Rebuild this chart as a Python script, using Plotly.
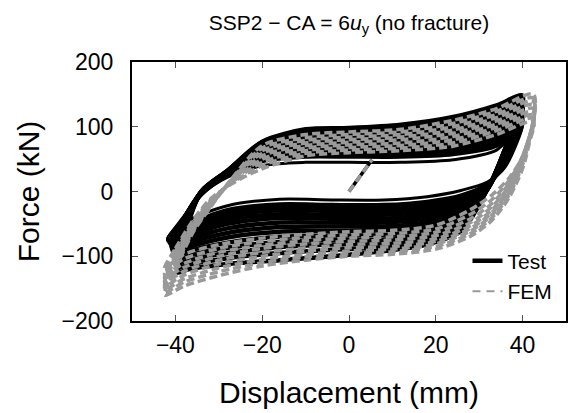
import plotly.graph_objects as go

# ---------------- Test (black) hysteresis cycles ----------------
# Left reversal point of every cycle (end of unloading / start of loading)
test_tip_disp = [-41.8, -41.7, -41.6, -41.4, -41.2, -41.0, -40.8, -40.6,
                 -40.4, -40.2, -40.0, -39.8, -39.6, -39.4]
test_tip_force = [-72, -74, -76, -78, -80, -84, -88, -92, -96, -100, -106,
                  -112, -118, -125]
# Loading branch (towards +40 mm); last point is the right reversal
test_up_disp = [-38, -34, -28, -20, -10, 0, 12, 24, 34, 40]
# Unloading branch (towards -40 mm)
test_dn_disp = [36, 32, 26, 18, 8, -4, -16, -28, -37]

test_up_force = [
    [-40, -5, 22, 40, 45, 45, 45, 49, 64, 104],
    [-40, -4, 25, 47, 54, 54, 54, 58, 71, 108],
    [-41, -3, 27, 51, 57, 57, 58, 62, 76, 112],
    [-41, -3, 28, 54, 60, 60, 62, 67, 82, 116],
    [-42, -2, 29, 57, 63, 63, 65, 72, 88, 120],
    [-42, -2, 29, 60, 66, 66, 69, 77, 94, 124],
    [-43, -1, 30, 63, 69, 69, 73, 82, 99, 128],
    [-43, -1, 30, 65, 72, 72, 77, 87, 104, 131],
    [-48, 0, 31, 68, 76, 76, 81, 92, 109, 134],
    [-52, 0, 31, 70, 80, 80, 85, 96, 114, 137],
    [-57, 0, 31, 72, 85, 84, 89, 101, 119, 140],
    [-62, 0, 32, 74, 89, 89, 94, 106, 124, 143],
    [-67, 0, 32, 76, 93, 94, 98, 110, 128, 146],
    [-72, 0, 32, 77, 96, 98, 103, 115, 133, 148],
]
test_dn_force = [
    [38, 15, 2, -8, -13, -13, -12, -22, -45],
    [45, 12, -6, -16, -21, -21, -20, -29, -52],
    [50, 10, -9, -20, -25, -25, -24, -33, -56],
    [54, 8, -13, -25, -30, -30, -29, -38, -60],
    [57, 7, -17, -30, -36, -36, -35, -44, -64],
    [60, 6, -21, -36, -42, -42, -41, -50, -69],
    [62, 6, -25, -41, -48, -48, -48, -57, -74],
    [64, 5, -29, -47, -54, -54, -55, -64, -80],
    [66, 5, -33, -53, -60, -61, -62, -71, -86],
    [66, 5, -37, -58, -67, -68, -70, -79, -92],
    [66, 5, -42, -64, -74, -75, -78, -87, -99],
    [65, 5, -48, -70, -80, -82, -86, -95, -106],
    [63, 5, -54, -76, -86, -90, -95, -103, -113],
    [60, 5, -60, -82, -92, -100, -106, -112, -120],
]
test_init_disp = [0, 5.3]
test_init_force = [0, 49]

# ---------------- FEM (grey dashed) hysteresis cycles ----------------
fem_up_disp = [-40, -36, -32, -27, -20, -10, 0, 12, 24, 34, 42.5]
fem_dn_disp = [40.5, 37, 33, 28, 20, 10, 0, -10, -20, -30, -38, -42.5]

fem_up_force = [
    [-88, -45, -12, 12, 35, 55, 60, 63, 70, 88, 108],
    [-92, -48, -14, 13, 40, 59, 64, 67, 75, 94, 113],
    [-96, -51, -16, 14, 45, 63, 68, 71, 80, 99, 118],
    [-100, -54, -18, 15, 50, 67, 72, 75, 85, 104, 123],
    [-104, -56, -20, 16, 55, 71, 76, 80, 90, 109, 128],
    [-108, -58, -22, 17, 59, 75, 80, 84, 95, 114, 134],
    [-112, -60, -23, 18, 63, 79, 84, 88, 100, 119, 139],
    [-116, -62, -24, 19, 67, 83, 88, 92, 105, 124, 144],
    [-120, -64, -25, 20, 71, 88, 92, 96, 110, 128, 150],
]
fem_dn_force = [
    [60, 22, -5, -28, -52, -60, -62, -66, -72, -82, -97, -118],
    [62, 18, -12, -35, -58, -65, -67, -71, -77, -88, -104, -123],
    [63, 14, -18, -42, -63, -70, -72, -76, -83, -94, -111, -128],
    [63, 10, -23, -48, -68, -75, -77, -81, -88, -100, -117, -134],
    [62, 7, -28, -53, -73, -80, -82, -87, -94, -106, -123, -140],
    [60, 4, -32, -57, -77, -85, -87, -92, -100, -112, -129, -146],
    [57, 0, -36, -61, -81, -89, -92, -97, -105, -118, -135, -151],
    [52, -4, -40, -65, -85, -93, -96, -101, -110, -124, -140, -156],
    [46, -8, -44, -69, -89, -97, -100, -106, -115, -130, -146, -160],
]
fem_init_disp = [0, 5.3]
fem_init_force = [0, 49]

x_ticks = [-40, -20, 0, 20, 40]
y_ticks = [-200, -100, 0, 100, 200]

FONT = "Liberation Sans, Arial, sans-serif"
GREY = "#999999"

fig = go.Figure()

# Test cycles: left reversal -> loading branch -> unloading branch -> left reversal
for i, (uf, df) in enumerate(zip(test_up_force, test_dn_force)):
    xs = [test_tip_disp[i]] + test_up_disp + test_dn_disp + [test_tip_disp[i]]
    ys = [test_tip_force[i]] + uf + df + [test_tip_force[i]]
    fig.add_trace(go.Scatter(x=xs, y=ys, mode="lines", showlegend=False,
                             hoverinfo="skip",
                             line=dict(color="black", width=3 if i == 0 else 4.5,
                                       shape="spline", smoothing=0.8)))
fig.add_trace(go.Scatter(x=test_init_disp, y=test_init_force, mode="lines",
                         showlegend=False, hoverinfo="skip",
                         line=dict(color="black", width=3.5)))

# FEM cycles drawn on top, dashed grey
for uf, df in zip(fem_up_force, fem_dn_force):
    xs = [fem_dn_disp[-1]] + fem_up_disp + fem_dn_disp
    ys = [df[-1]] + uf + df
    fig.add_trace(go.Scatter(x=xs, y=ys, mode="lines", showlegend=False,
                             hoverinfo="skip",
                             line=dict(color=GREY, width=3.5, dash="8px,4px",
                                       shape="spline", smoothing=0.8)))
fig.add_trace(go.Scatter(x=fem_init_disp, y=fem_init_force, mode="lines",
                         showlegend=False, hoverinfo="skip",
                         line=dict(color=GREY, width=3.5, dash="8px,4px")))

# legend entries
fig.add_trace(go.Scatter(x=[None], y=[None], mode="lines", name="Test",
                         legendgroup="test",
                         line=dict(color="black", width=4.5)))
fig.add_trace(go.Scatter(x=[None], y=[None], mode="lines", name="FEM",
                         legendgroup="fem",
                         line=dict(color=GREY, width=2, dash="8px,6px")))

axis_common = dict(
    showgrid=False, zeroline=False, showline=True, linecolor="black",
    linewidth=2, mirror="ticks", ticks="inside", ticklen=6, tickwidth=1,
    tickcolor="#555555", tickfont=dict(family=FONT, size=23, color="black"),
)

fig.update_layout(
    width=568, height=413,
    margin=dict(l=132, r=0, t=62, b=92),
    paper_bgcolor="white", plot_bgcolor="white",
    font=dict(family=FONT, color="black"),
    title=dict(text="SSP2 \u2212 CA = 6<i>u</i><sub>y</sub> (no fracture)",
               font=dict(family=FONT, size=21, color="black"),
               x=0.5, xref="paper", xanchor="center",
               y=0.945, yref="container", yanchor="middle"),
    xaxis=dict(range=[-50, 50], tickvals=x_ticks,
               title=dict(text="Displacement (mm)",
                          font=dict(family=FONT, size=30), standoff=25),
               ticklabelstandoff=2, **axis_common),
    yaxis=dict(range=[-200, 200], tickvals=y_ticks,
               title=dict(text="Force (kN)",
                          font=dict(family=FONT, size=30), standoff=13),
               ticklabelstandoff=12, **axis_common),
    legend=dict(x=0.773, y=0.31, xanchor="left", yanchor="top",
                bgcolor="rgba(0,0,0,0)", borderwidth=0,
                font=dict(family=FONT, size=21, color="black"),
                tracegroupgap=0),
    showlegend=True,
)

fig.write_html("out.html")
